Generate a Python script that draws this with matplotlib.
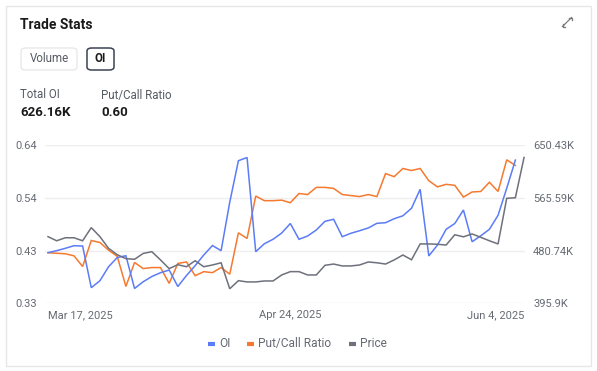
import matplotlib
matplotlib.use("Agg")
import matplotlib.pyplot as plt
from matplotlib.patches import FancyBboxPatch, Rectangle
from matplotlib.lines import Line2D

plt.rcParams['font.family'] = ['Roboto', 'DejaVu Sans']

# ---------------- data ----------------
x_tick_labels = ["Mar 17, 2025", "Apr 24, 2025", "Jun 4, 2025"]
x_tick_index = [0, 28, 55]

oi_k = [477.3, 480.5, 484.3, 488.5, 488.0, 421.0, 432.2, 454.7, 469.5, 472.4,
        419.7, 430.6, 439.0, 445.1, 449.4, 422.9, 440.6, 456.4, 473.6, 488.8,
        480.5, 558.5, 625.2, 630.3, 478.9, 491.7, 498.8, 508.9, 524.2, 498.8,
        504.1, 513.8, 527.7, 531.0, 503.0, 508.5, 512.6, 517.0, 524.5, 525.5,
        531.9, 536.6, 548.7, 579.2, 472.0, 489.6, 514.9, 524.2, 545.9, 494.9,
        504.4, 514.9, 537.4, 580.8, 626.16, None]

put_call = [0.429, 0.428, 0.427, 0.423, 0.402, 0.453, 0.449, 0.434, 0.422, 0.363,
            0.410, 0.398, 0.400, 0.400, 0.369, 0.408, 0.411, 0.384, 0.392, 0.390,
            0.400, 0.387, 0.468, 0.457, 0.540, 0.531, 0.531, 0.532, 0.527, 0.545,
            0.543, 0.557, 0.557, 0.555, 0.543, 0.541, 0.539, 0.543, 0.539, 0.584,
            0.578, 0.594, 0.590, 0.594, 0.570, 0.558, 0.563, 0.561, 0.538, 0.548,
            0.549, 0.567, 0.549, 0.611, 0.600, None]

price = [24.21, 23.95, 24.14, 24.14, 23.95, 24.78, 24.21, 23.47, 23.07, 22.82,
         22.78, 23.15, 23.26, 22.74, 22.19, 22.44, 22.31, 22.69, 22.31, 22.42,
         22.56, 20.92, 21.43, 21.35, 21.35, 21.41, 21.41, 21.79, 22.00, 22.00,
         21.79, 21.79, 22.40, 22.48, 22.36, 22.36, 22.42, 22.61, 22.56, 22.48,
         22.74, 23.05, 22.75, 23.75, 23.75, 23.73, 23.68, 24.33, 24.20, 24.38,
         24.17, 23.95, 23.75, 26.63, 26.67, 29.21]

left_range = (0.33, 0.64)
right_range = (395.9, 650.43)
price_range = (20.0, 30.0)

total_oi_text = "626.16K"
pc_text = "0.60"

# ---------------- style ----------------
C_OI = '#5b7cf6'
C_PC = '#f5792f'
C_PR = '#6e717b'
C_TXT = '#666a73'
C_GRID = '#eeeeee'

W, H = 597, 371
fig = plt.figure(figsize=(W / 100, H / 100), dpi=100)
fig.patch.set_facecolor('white')

def fx(px):
    return px / W

def fy(py):
    return 1 - py / H

# card border
fig.add_artist(Rectangle((fx(5.5), fy(365.5)), fx(585), (360) / H, transform=fig.transFigure,
                         fill=False, edgecolor='#e6e6e6', linewidth=1.0))

fig.text(fx(20), fy(25), "Trade Stats", fontsize=10, fontweight='bold', color='#1a1a1a',
         va='center', ha='left')

# buttons
fig.add_artist(FancyBboxPatch((fx(21), fy(70)), fx(56), 22 / H,
                              boxstyle="round,pad=0,rounding_size=0.008",
                              transform=fig.transFigure, facecolor='white',
                              edgecolor='#e6e6e6', linewidth=0.9))
fig.text(fx(49), fy(59), "Volume", fontsize=8.3, color='#555a63', ha='center', va='center')
fig.add_artist(FancyBboxPatch((fx(87), fy(70)), fx(27), 22 / H,
                              boxstyle="round,pad=0,rounding_size=0.008",
                              transform=fig.transFigure, facecolor='white',
                              edgecolor='#3b4252', linewidth=1.1))
fig.text(fx(100.5), fy(59), "OI", fontsize=8.3, fontweight='bold', color='#1a1a1a',
         ha='center', va='center')

fig.text(fx(20), fy(95), "Total OI", fontsize=8.3, color='#555a63', ha='left', va='center')
fig.text(fx(20), fy(113), total_oi_text, fontsize=9.5, fontweight='bold', color='#1a1a1a',
         ha='left', va='center')
fig.text(fx(101), fy(95), "Put/Call Ratio", fontsize=8.3, color='#555a63', ha='left', va='center')
fig.text(fx(101), fy(113), pc_text, fontsize=9.5, fontweight='bold', color='#1a1a1a',
         ha='left', va='center')

# expand icon
for (x0, y0, x1, y1) in [(567.5, 21.5, 571.5, 17.5), (566.5, 22.5, 562.5, 26.5)]:
    fig.add_artist(Line2D([fx(x0), fx(x1)], [fy(y0), fy(y1)], transform=fig.transFigure,
                          color='#777777', linewidth=0.9))
for (xa, ya, xb, yb, xc, yc) in [(569, 17.5, 571.5, 17.5, 571.5, 20), (562.5, 24, 562.5, 26.5, 565, 26.5)]:
    fig.add_artist(Line2D([fx(xa), fx(xb), fx(xc)], [fy(ya), fy(yb), fy(yc)],
                          transform=fig.transFigure, color='#777777', linewidth=0.9))

# ---------------- plot ----------------
n = len(price)
xs = list(range(n))
step = 8.655
x_lo, x_hi = -0.3, (n - 1) + 0.1
ax_left_px = 48 + x_lo * step
ax_right_px = 48 + x_hi * step
top_px, bot_px = 145.0, 303.3
ax1 = fig.add_axes([fx(ax_left_px), fy(bot_px), fx(ax_right_px - ax_left_px), (bot_px - top_px) / H])
ax2 = ax1.twinx()
ax3 = ax1.twinx()

for a in (ax1, ax2, ax3):
    a.set_xlim(x_lo, x_hi)
    for s in a.spines.values():
        s.set_visible(False)
    a.patch.set_visible(False)

ax1.set_ylim(*left_range)
ax2.set_ylim(*right_range)
ax3.set_ylim(*price_range)

lt = [left_range[0] + k * (left_range[1] - left_range[0]) / 3 for k in range(4)]
rt = [right_range[0] + k * (right_range[1] - right_range[0]) / 3 for k in range(4)]
ax1.set_yticks(lt)
ax1.set_yticklabels([f"{v:.2f}" for v in lt])
ax2.set_yticks(rt)

def kfmt(v):
    s = f"{v:.2f}".rstrip('0').rstrip('.')
    return s + "K"

ax2.set_yticklabels([kfmt(v) for v in rt])
ax3.set_yticks([])

ax1.grid(axis='y', color=C_GRID, linewidth=1.0)
ax1.set_axisbelow(True)
ax1.tick_params(axis='y', length=0, pad=6, labelsize=8, labelcolor=C_TXT)
ax2.tick_params(axis='y', length=0, pad=6, labelsize=8, labelcolor=C_TXT)
for a in (ax2, ax3):
    a.set_xticks([])

ax1.set_xticks(x_tick_index)
ax1.set_xticklabels(x_tick_labels)
ax1.tick_params(axis='x', length=0, pad=5, labelsize=8, labelcolor=C_TXT)
tl = ax1.get_xticklabels()
tl[0].set_ha('left')
tl[-1].set_ha('right')

lw = 1.1
pc_x = [i for i, v in enumerate(put_call) if v is not None]
pc_y = [v for v in put_call if v is not None]
oi_x = [i for i, v in enumerate(oi_k) if v is not None]
oi_y = [v for v in oi_k if v is not None]
ax1.plot(pc_x, pc_y, color=C_PC, linewidth=lw, solid_joinstyle='miter')
ax2.plot(oi_x, oi_y, color=C_OI, linewidth=lw, solid_joinstyle='miter')
ax3.plot(xs, price, color=C_PR, linewidth=lw, solid_joinstyle='miter')

# legend
legend_items = [("OI", C_OI, 208), ("Put/Call Ratio", C_PC, 247), ("Price", C_PR, 349)]
for label, col, px in legend_items:
    fig.add_artist(Line2D([fx(px), fx(px + 7)], [fy(343.5), fy(343.5)], transform=fig.transFigure,
                          color=col, linewidth=3.0, solid_capstyle='butt'))
    fig.text(fx(px + 11), fy(343.5), label, fontsize=8.6, color=C_TXT, ha='left', va='center')

fig.savefig("out.png", dpi=100, facecolor='white')
